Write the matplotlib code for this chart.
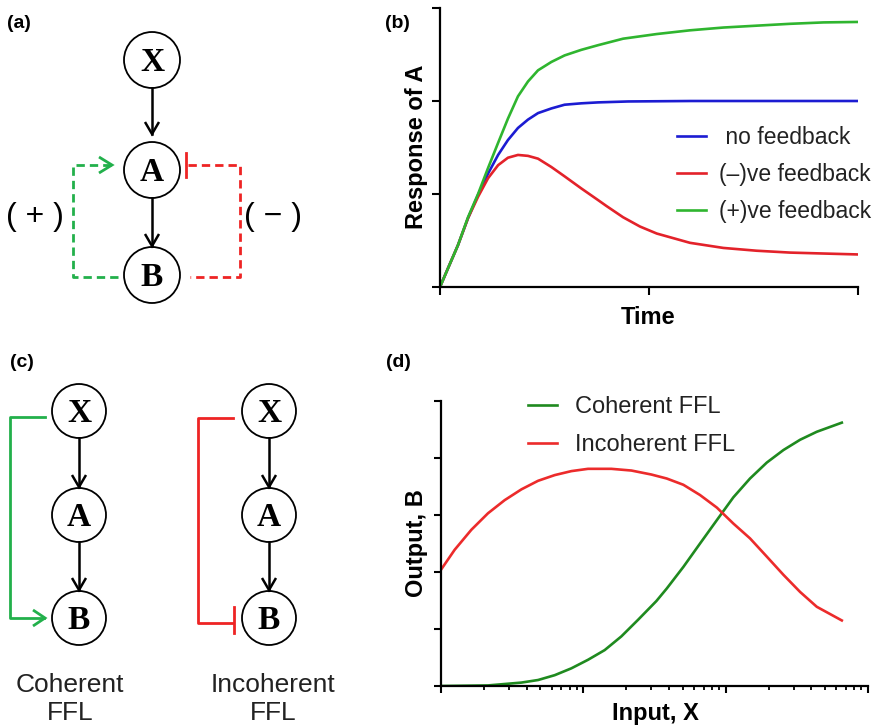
import numpy as np
import matplotlib.pyplot as plt
from matplotlib.patches import Circle

plt.rcParams['font.family'] = ['Liberation Sans', 'DejaVu Sans']

W, H = 875, 726

# --- (b) response of A over time ---
t_none = [0, 0.038, 0.086, 0.134, 0.182, 0.230, 0.278, 0.325, 0.373, 0.421, 0.469,
          0.533, 0.596, 0.676, 0.756, 0.9, 1.2, 1.6, 2.0]
a_none = [0, 0.20, 0.45, 0.74, 0.99, 1.22, 1.42, 1.58, 1.71, 1.80, 1.87,
          1.92, 1.96, 1.975, 1.985, 1.995, 2.0, 2.0, 2.0]

t_neg = [0, 0.038, 0.086, 0.134, 0.182, 0.230, 0.278, 0.325, 0.373, 0.421, 0.469,
         0.533, 0.596, 0.676, 0.756, 0.797, 0.876, 0.957, 1.037, 1.196, 1.356,
         1.515, 1.675, 1.835, 2.0]
a_neg = [0, 0.20, 0.45, 0.74, 0.97, 1.17, 1.31, 1.39, 1.42, 1.41, 1.38,
         1.29, 1.19, 1.06, 0.935, 0.87, 0.75, 0.65, 0.575, 0.475, 0.42,
         0.39, 0.37, 0.36, 0.35]

t_pos = [0, 0.038, 0.086, 0.134, 0.182, 0.230, 0.278, 0.325, 0.373, 0.421, 0.469,
         0.533, 0.596, 0.676, 0.756, 0.876, 1.037, 1.196, 1.356, 1.515, 1.675,
         1.835, 2.0]
a_pos = [0, 0.20, 0.45, 0.75, 1.00, 1.28, 1.55, 1.81, 2.05, 2.21, 2.33,
         2.42, 2.49, 2.55, 2.60, 2.67, 2.72, 2.76, 2.79, 2.81, 2.83,
         2.845, 2.85]

# --- (d) output B vs input X (log10 of X) ---
logx_coh = [0, 0.33, 0.565, 0.682, 0.799, 0.916, 1.033, 1.150, 1.267, 1.384, 1.513,
            1.586, 1.703, 1.820, 1.938, 2.054, 2.171, 2.289, 2.406, 2.523, 2.640, 2.816]
b_coh = [0, 0.01, 0.06, 0.105, 0.19, 0.31, 0.46, 0.63, 0.87, 1.16, 1.49,
         1.71, 2.09, 2.50, 2.91, 3.31, 3.64, 3.92, 4.14, 4.32, 4.46, 4.62]

logx_inc = [0, 0.096, 0.213, 0.330, 0.447, 0.565, 0.682, 0.799, 0.916, 1.033, 1.197,
            1.338, 1.478, 1.586, 1.703, 1.820, 1.938, 2.054, 2.171, 2.289, 2.406,
            2.523, 2.640, 2.816]
b_inc = [2.04, 2.39, 2.74, 3.03, 3.26, 3.45, 3.60, 3.70, 3.77, 3.81, 3.81,
         3.78, 3.71, 3.64, 3.53, 3.35, 3.13, 2.85, 2.59, 2.27, 1.95,
         1.65, 1.39, 1.15]

legend_b = [" no feedback", "(–)ve feedback", "(+)ve feedback"]
legend_d = ["Coherent FFL", "Incoherent FFL"]

# colours
BLUE, RED_B, GREEN_B = '#1c1cd2', '#e3222a', '#2fb52f'
GREEN_D, RED_D = '#1f8a1f', '#ec2b2b'
GREEN_N, RED_N = '#22b04b', '#ee2424'
TXT = '#222222'

fig = plt.figure(figsize=(W / 100, H / 100), dpi=100)

# overlay axes in pixel units for the diagrams and free text
ax0 = fig.add_axes([0, 0, 1, 1])
ax0.set_xlim(0, W)
ax0.set_ylim(H, 0)
ax0.axis('off')


def node(x, y, s, r=28):
    ax0.add_patch(Circle((x, y), r, fill=False, ec='black', lw=1.3))
    ax0.text(x, y + 11, s, family=['Liberation Serif', 'DejaVu Serif'], weight='bold',
             fontsize=24, ha='center', va='baseline')


def chevron(x, y, dx, dy, color='black', lw=1.8, size=12, half=7):
    # open arrow head with tip at (x, y), pointing in direction (dx, dy)
    px, py = -dy, dx
    xs = [x - dx * size + px * half, x, x - dx * size - px * half]
    ys = [y - dy * size + py * half, y, y - dy * size - py * half]
    ax0.plot(xs, ys, color=color, lw=lw, solid_joinstyle='miter', solid_capstyle='butt')


def down_arrow(x, y0, y1):
    ax0.plot([x, x], [y0, y1], color='black', lw=1.8)
    chevron(x, y1, 0, 1)


# --- (a) feedback diagram ---
ax_x = 152
node(ax_x, 60, 'X')
node(ax_x, 170, 'A')
node(ax_x, 275, 'B')
down_arrow(ax_x, 88, 134)
down_arrow(ax_x, 198, 246)

dash = (0, (3, 1.8))
ax0.plot([118, 73, 73, 111], [277, 277, 165, 165], color=GREEN_N, lw=2, ls=dash)
chevron(112, 165, 1, 0, color=GREEN_N, lw=2, size=13, half=8)
ax0.plot([186, 186], [153, 177], color=RED_N, lw=2)
ax0.plot([188, 240, 240, 190], [165, 165, 277, 277], color=RED_N, lw=2, ls=dash)
ax0.text(35, 217, "( + )", fontsize=23, ha='center', va='center', color='black')
ax0.text(273, 217, "( − )", fontsize=23, ha='center', va='center', color='black')

# --- (c) feed-forward loops ---
for cx in (79, 269):
    node(cx, 411, 'X', r=27)
    node(cx, 515, 'A', r=27)
    node(cx, 618, 'B', r=27)
    down_arrow(cx, 438, 487)
    down_arrow(cx, 542, 590)

ax0.plot([45, 10, 10, 44], [417, 417, 618, 618], color=GREEN_N, lw=2)
chevron(45, 618, 1, 0, color=GREEN_N, lw=2, size=12, half=8)
ax0.plot([233, 198, 198, 233], [418, 418, 623, 623], color=RED_N, lw=2)
ax0.plot([234, 234], [607, 633], color=RED_N, lw=2)

for cx, words in ((70, ("Coherent", "FFL")), (273, ("Incoherent", "FFL"))):
    ax0.text(cx, 692, words[0], fontsize=19, ha='center', va='baseline', color=TXT)
    ax0.text(cx, 720, words[1], fontsize=19, ha='center', va='baseline', color=TXT)

# panel letters
for x, y, s in ((7, 28, "(a)"), (385, 28, "(b)"), (10, 367, "(c)"), (386, 367, "(d)")):
    ax0.text(x, y, s, fontsize=14, weight='bold', ha='left', va='baseline')


def style(ax):
    for side in ('top', 'right'):
        ax.spines[side].set_visible(False)
    for side in ('left', 'bottom'):
        ax.spines[side].set_linewidth(1.6)
    ax.set_facecolor('none')
    ax.tick_params(which='both', direction='out', width=1.5, labelleft=False, labelbottom=False)


# --- (b) plot ---
axb = fig.add_axes([440 / W, 1 - 287 / H, (858 - 440) / W, (287 - 8) / H])
axb.plot(t_none, a_none, color=BLUE, lw=1.9, label=legend_b[0])
axb.plot(t_neg, a_neg, color=RED_B, lw=1.9, label=legend_b[1])
axb.plot(t_pos, a_pos, color=GREEN_B, lw=1.9, label=legend_b[2])
axb.set_xlim(0, 2)
axb.set_ylim(0, 3)
axb.set_xticks([0, 1, 2])
axb.set_yticks([0, 1, 2, 3])
style(axb)
axb.tick_params(length=5.5)
axb.legend(loc='upper left', bbox_to_anchor=(677, 126), bbox_transform=ax0.transData,
           frameon=False, fontsize=16.5, handlelength=1.26, handletextpad=0.58,
           labelspacing=0.62, borderpad=0, borderaxespad=0, labelcolor=TXT)
ax0.text(648, 324, "Time", fontsize=17, weight='bold', ha='center', va='baseline')
ax0.text(423, 147, "Response of A", fontsize=17, weight='bold', rotation=90,
         rotation_mode='anchor', ha='center', va='baseline')

# --- (d) plot ---
axd = fig.add_axes([441 / W, 1 - 686 / H, (868 - 441) / W, (686 - 401) / H])
axd.plot(np.power(10.0, logx_coh), b_coh, color=GREEN_D, lw=1.9, label=legend_d[0])
axd.plot(np.power(10.0, logx_inc), b_inc, color=RED_D, lw=1.9, label=legend_d[1])
axd.set_xscale('log')
axd.set_xlim(1, 1000)
axd.set_ylim(0, 5)
axd.set_yticks([0, 1, 2, 3, 4, 5])
style(axd)
axd.tick_params(which='major', length=5)
axd.tick_params(which='minor', length=3.2, width=1.3)
axd.tick_params(axis='y', length=5)
axd.legend(loc='upper left', bbox_to_anchor=(528, 396), bbox_transform=ax0.transData,
           frameon=False, fontsize=17, handlelength=1.24, handletextpad=0.75,
           labelspacing=0.68, borderpad=0, borderaxespad=0, labelcolor=TXT)
ax0.text(655, 720, "Input, X", fontsize=17, weight='bold', ha='center', va='baseline')
ax0.text(423, 543, "Output, B", fontsize=17, weight='bold', rotation=90,
         rotation_mode='anchor', ha='center', va='baseline')

fig.savefig("out.png", dpi=100)
